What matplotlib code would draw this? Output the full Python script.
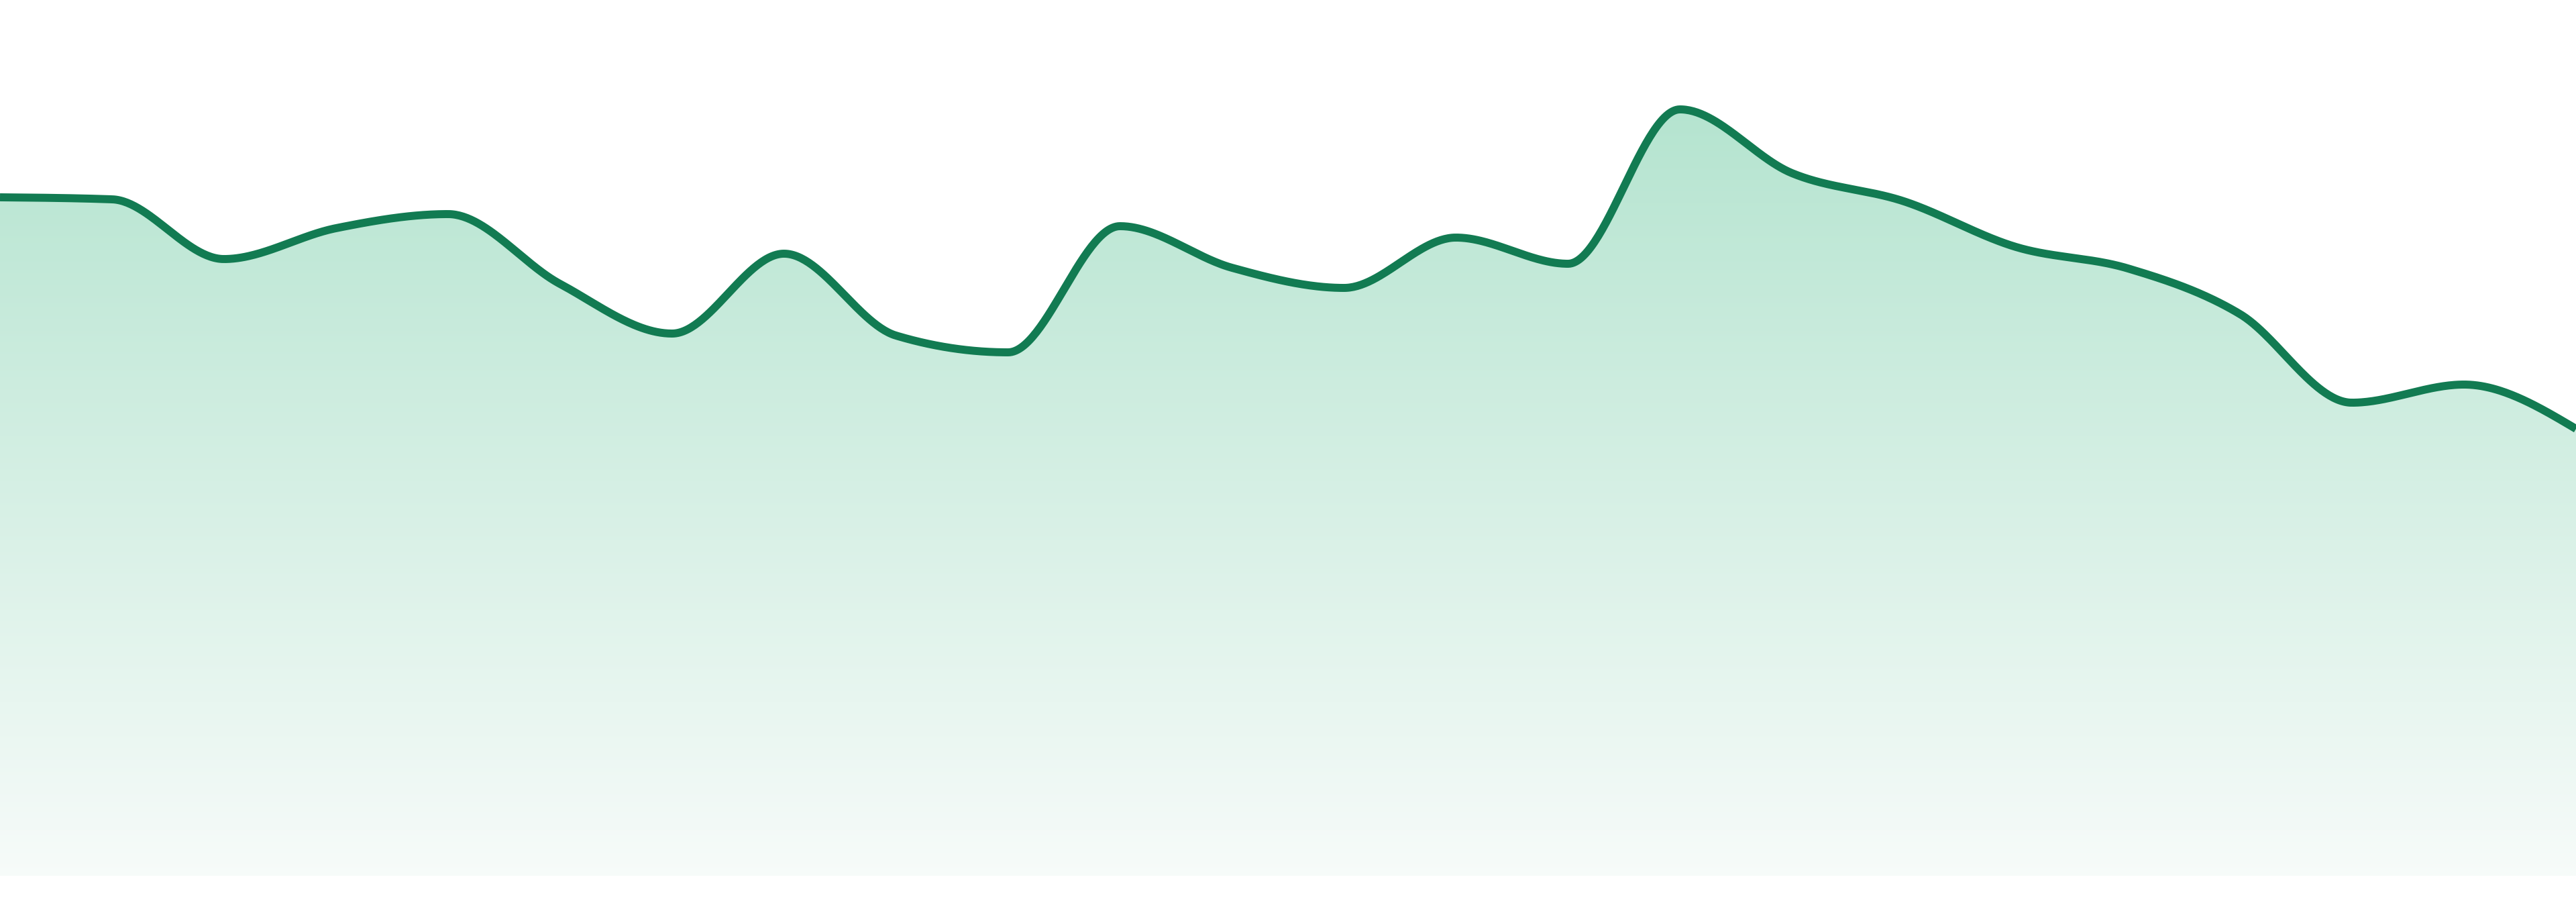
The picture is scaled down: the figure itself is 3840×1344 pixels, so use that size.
import numpy as np
import matplotlib
matplotlib.use("Agg")
import matplotlib.pyplot as plt
from matplotlib.colors import LinearSegmentedColormap

# ---- data ----
periods = list(range(24))
values = [1011, 1008, 919, 965, 986, 882, 808, 927, 805, 780, 968, 906,
          876, 951, 912, 1142, 1047, 1005, 937, 905, 837, 705, 732, 666]

line_color = "#127b52"
fill_top = (0.71, 0.895, 0.815)
fill_bottom = (0.968, 0.985, 0.978)


def monotone_x(xs, ys, n=60):
    xs = np.asarray(xs, float)
    ys = np.asarray(ys, float)
    m = len(xs)
    h = np.diff(xs)
    s = np.diff(ys) / h
    t = np.zeros(m)
    for i in range(1, m - 1):
        s0, s1 = s[i - 1], s[i]
        p = (s0 * h[i] + s1 * h[i - 1]) / (h[i - 1] + h[i])
        t[i] = (np.sign(s0) + np.sign(s1)) * min(abs(s0), abs(s1), 0.5 * abs(p))
    t[0] = (3 * s[0] - t[1]) / 2
    t[-1] = (3 * s[-1] - t[-2]) / 2
    px, py = [], []
    u = np.linspace(0, 1, n)
    for i in range(m - 1):
        dx = h[i] / 3
        P0 = (xs[i], ys[i])
        P1 = (xs[i] + dx, ys[i] + dx * t[i])
        P2 = (xs[i + 1] - dx, ys[i + 1] - dx * t[i + 1])
        P3 = (xs[i + 1], ys[i + 1])
        b0 = (1 - u) ** 3
        b1 = 3 * (1 - u) ** 2 * u
        b2 = 3 * (1 - u) * u ** 2
        b3 = u ** 3
        bx = b0 * P0[0] + b1 * P1[0] + b2 * P2[0] + b3 * P3[0]
        by = b0 * P0[1] + b1 * P1[1] + b2 * P2[1] + b3 * P3[1]
        if i > 0:
            bx, by = bx[1:], by[1:]
        px.append(bx)
        py.append(by)
    return np.concatenate(px), np.concatenate(py)


fig = plt.figure(figsize=(38.4, 13.44), dpi=100)
ax = fig.add_axes([0, 0, 1, 1])
ax.set_xlim(periods[0], periods[-1])
ax.set_ylim(-39, 1305)
ax.axis("off")

cx, cy = monotone_x(periods, values)

poly = ax.fill_between(cx, 0, cy, facecolor="none", edgecolor="none")
cmap = LinearSegmentedColormap.from_list("g", [fill_bottom, fill_top])
grad = np.linspace(0, 1, 512).reshape(-1, 1)
img = ax.imshow(grad, cmap=cmap, aspect="auto", origin="lower",
                extent=[periods[0], periods[-1], 0, max(values)],
                interpolation="bicubic", zorder=1)
path = poly.get_paths()[0]
img.set_clip_path(path, transform=ax.transData)

ax.plot(cx, cy, color=line_color, linewidth=8.6, solid_joinstyle="round",
        solid_capstyle="butt", zorder=3)

fig.savefig("out.png", dpi=100, facecolor="white")
